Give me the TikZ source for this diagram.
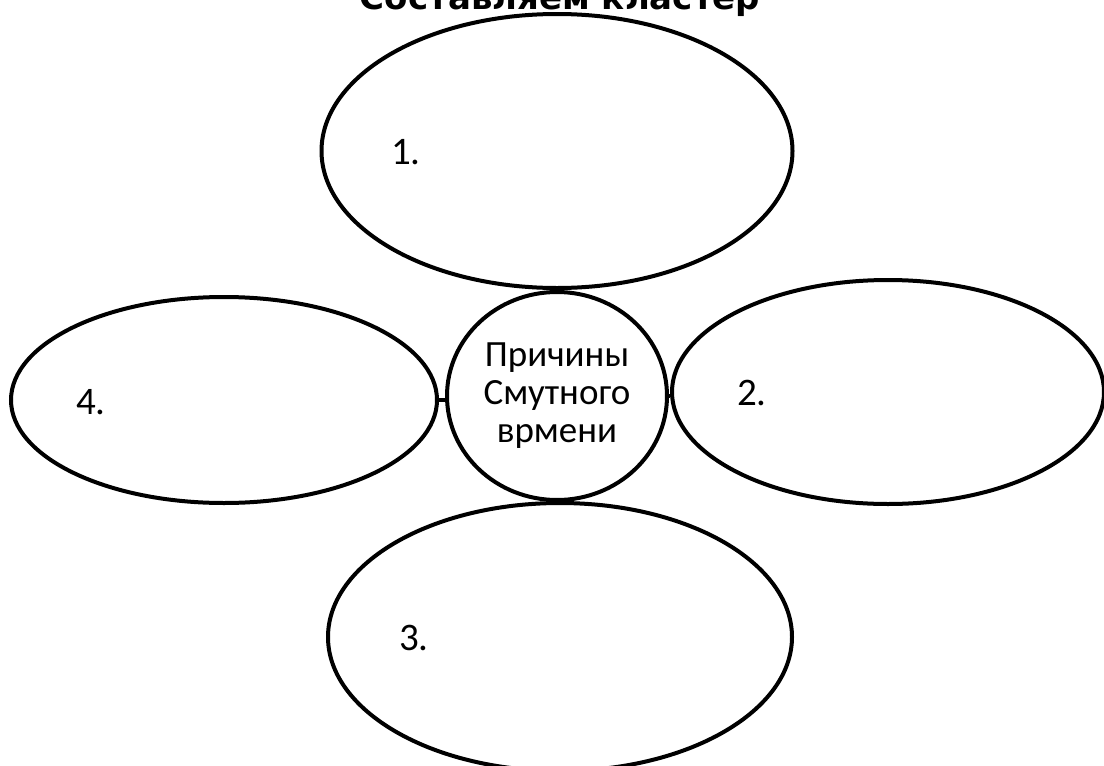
\documentclass[tikz,border=0pt]{standalone}
\usepackage{fontspec}
\setmainfont{Carlito}
\newfontfamily\titlefont{DejaVu Sans}
\usetikzlibrary{shapes.geometric,positioning}
\tikzstyle{petal}=[draw, ellipse, inner sep=0pt, line width=4pt]
\tikzstyle{num}=[font=\fontsize{39}{44}\selectfont, inner sep=0pt]
\tikzstyle{stem}=[line width=4pt]

\begin{document}
\begin{tikzpicture}[x=1pt,y=-1pt]
\useasboundingbox (0,0) rectangle (1104,766);
\node[anchor=base, font=\titlefont\bfseries\fontsize{34}{40}\selectfont] (title) at (560,9) {Составляем кластер};

\node[petal, minimum width=220pt, minimum height=208pt, align=center,
  font=\fontsize{37}{38}\selectfont] (mid) at (557,396) {Причины\\Смутного\\врмени};

\node[petal, minimum width=471pt, minimum height=274pt] (top) at (557,151) {};
\node[petal, minimum width=432pt, minimum height=224pt] (right) at (888,392) {};
\node[petal, minimum width=464pt, minimum height=268pt] (bottom) at (560,637) {};
\node[petal, minimum width=426pt, minimum height=206pt] (left) at (224,400) {};

\node[num] (n1) at (406,152) {1.};
\node[num] (n2) at (752,393) {2.};
\node[num] (n3) at (414,638) {3.};
\node[num] (n4) at (91,402) {4.};

\draw[stem] (top.south) -- (top.south |- mid.north);
\draw[stem] (left.east) -- (left.east -| mid.west);
\draw[stem] (mid.east) -- (mid.east -| right.west);
\end{tikzpicture}
\end{document}
